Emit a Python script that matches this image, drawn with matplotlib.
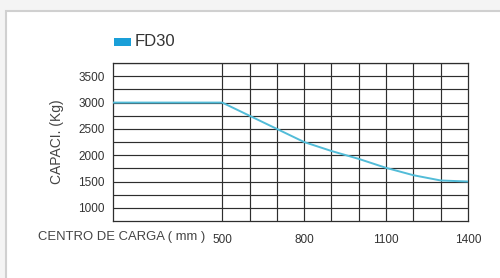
import matplotlib
matplotlib.use("Agg")
from matplotlib import pyplot as plt
from matplotlib.patches import Rectangle

# data
load_center = [100, 500, 600, 700, 800, 900, 1000, 1100, 1200, 1300, 1400]
capacity = [3000, 3000, 2750, 2500, 2250, 2080, 1930, 1760, 1620, 1520, 1500]
y_ticks = [1000, 1500, 2000, 2500, 3000, 3500]
x_ticks = [500, 800, 1100, 1400]
series_name = "FD30"

plt.rcParams['font.family'] = ['Liberation Sans', 'DejaVu Sans']

fig = plt.figure(figsize=(5, 2.78), dpi=100)
fig.patch.set_facecolor('#f4f4f4')
# white card with soft border
card = Rectangle((0.012, -0.05), 1.1, 1.01, transform=fig.transFigure,
                 facecolor='white', edgecolor='#d0d0d0', lw=1.5, zorder=-5)
fig.patches.append(card)

ax = fig.add_axes([0.226, 0.205, 0.71, 0.568])
ax.set_zorder(3)
ax.set_facecolor('none')
ax.set_xlim(100, 1400)
ax.set_ylim(750, 3750)

for y in range(1000, 3751, 250):
    ax.axhline(y, color='#2e2e2e', lw=0.85, zorder=1)
for x in range(500, 1400, 100):
    ax.axvline(x, color='#2e2e2e', lw=0.85, zorder=1)
for s in ax.spines.values():
    s.set_color('#2e2e2e')
    s.set_linewidth(0.9)

ax.plot(load_center, capacity, color='#52bcd8', lw=1.4, zorder=3)

ax.set_yticks(y_ticks)
ax.set_yticklabels([str(v) for v in y_ticks], fontsize=8.5, color='#333333')
ax.set_xticks(x_ticks)
ax.set_xticklabels([str(v) for v in x_ticks], fontsize=8.5, color='#333333')
ax.tick_params(axis='y', length=0, pad=6)
ax.tick_params(axis='x', length=0, pad=9)

ax.set_ylabel("CAPACI. (Kg)", fontsize=10, color='#444444', labelpad=10)
fig.text(0.076, 0.147, "CENTRO DE CARGA ( mm )", fontsize=9.4, color='#444444', va='center')

# legend
fig.patches.append(Rectangle((0.228, 0.833), 0.034, 0.032, transform=fig.transFigure,
                             facecolor='#1a9fd8', edgecolor='none', zorder=1))
fig.text(0.27, 0.849, series_name, fontsize=12, color='#333333', va='center')

fig.savefig('out.png', dpi=100)
